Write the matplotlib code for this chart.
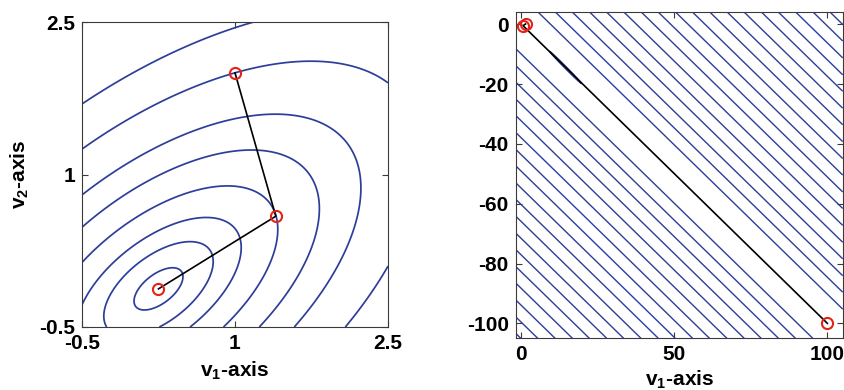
import numpy as np
import matplotlib
matplotlib.use("Agg")
import matplotlib.pyplot as plt

plt.rcParams['font.family'] = ['Liberation Sans', 'DejaVu Sans']
plt.rcParams['mathtext.fontset'] = 'custom'
plt.rcParams['mathtext.rm'] = 'Liberation Sans:bold'
plt.rcParams['mathtext.bf'] = 'Liberation Sans:bold'
plt.rcParams['axes.unicode_minus'] = False

# ---------------- data: left panel (well conditioned quadratic) ----------------
A_left = [[3.0, -2.0], [-2.0, 4.0]]
b_left = [1.0, -1.0]
levels_left = [-0.13, 0.1, 0.47, 1.18, 2.3, 3.75, 6.5, 10.0]
path_left_v1 = [1.0, 1.40, 0.25]
path_left_v2 = [2.0, 0.59, -0.125]
ticks_left = [-0.5, 1, 2.5]
ticklabels_left = ['-0.5', '1', '2.5']

# ---------------- data: right panel (ill conditioned problem) ----------------
center_right = [100.0, -100.0]          # minimiser
valley_dir = [1.0, -1.0]                # flat (valley) direction
levels_right = [6.9, 10.9, 14.8, 18.8, 22.7, 26.7, 30.7, 34.6, 38.6, 42.5,
                46.5, 50.5, 54.4, 58.4, 62.3, 66.3, 70.3, 74.2, 78.2, 82.1]
# thin closed contour lying along the path near its upper-left end
lens_center = [14.6, -14.4]
lens_dir = [1.0, -1.04]
lens_half_axes = [7.5, 0.32]
path_right_v1 = [1.6, 0.8, 100.0]
path_right_v2 = [0.1, -0.5, -100.0]
xticks_right = [0, 50, 100]
yticks_right = [0, -20, -40, -60, -80, -100]

BLUE = '#2c3e9a'
RED = '#e2231a'
SPINE = '#3a3a3a'
FS = 15

fig = plt.figure(figsize=(8.45, 3.90), dpi=100)


def quad(A, b, X, Y):
    return 0.5 * (A[0][0] * X * X + 2 * A[0][1] * X * Y + A[1][1] * Y * Y) - (b[0] * X + b[1] * Y)


def rotated(X, Y, c, d):
    d = np.asarray(d, float) / np.hypot(*d)
    DX, DY = X - c[0], Y - c[1]
    T = DX * d[0] + DY * d[1]
    S = -DX * d[1] + DY * d[0]
    return T, S


def style(ax):
    for s in ax.spines.values():
        s.set_color(SPINE)
        s.set_linewidth(0.8)
    ax.tick_params(direction='in', length=4, width=0.8, color=SPINE, top=True, right=True,
                   labelsize=FS, pad=5)
    for lab in ax.get_xticklabels() + ax.get_yticklabels():
        lab.set_fontweight('bold')


# left
ax1 = fig.add_axes([82 / 845, 1 - 327 / 390, 306 / 845, 305 / 390])
xs = np.linspace(-0.5, 2.5, 600)
ys = np.linspace(-0.5, 2.5, 600)
X, Y = np.meshgrid(xs, ys)
Z = quad(A_left, b_left, X, Y)
ax1.contour(X, Y, Z, levels=levels_left, colors=BLUE, linewidths=1.25, linestyles='solid')
ax1.plot(path_left_v1, path_left_v2, color='black', lw=1.2)
ax1.plot(path_left_v1, path_left_v2, 'o', mfc='none', mec=RED, mew=1.5, ms=8)
ax1.set_xlim(-0.5, 2.5)
ax1.set_ylim(-0.5, 2.5)
ax1.set_xticks(ticks_left)
ax1.set_xticklabels(ticklabels_left)
ax1.set_yticks(ticks_left)
ax1.set_yticklabels(ticklabels_left)
ax1.set_xlabel(r'v$_\mathbf{1}$-axis', fontsize=FS, fontweight='bold', labelpad=5)
ax1.set_ylabel(r'v$_\mathbf{2}$-axis', fontsize=FS, fontweight='bold', labelpad=6)
style(ax1)

# right
ax2 = fig.add_axes([515.7 / 845, 1 - 338.3 / 390, 327 / 845, 326.6 / 390])
xs = np.linspace(-1.6, 105, 1600)
ys = np.linspace(-105, 4.2, 1600)
X, Y = np.meshgrid(xs, ys)
T, S = rotated(X, Y, center_right, valley_dir)
ax2.contour(X, Y, np.abs(S), levels=levels_right, colors=BLUE, linewidths=1.0,
            linestyles='solid')
Tl, Sl = rotated(X, Y, lens_center, lens_dir)
L = np.sqrt((Tl / lens_half_axes[0]) ** 2 + (Sl / lens_half_axes[1]) ** 2)
ax2.contour(X, Y, L, levels=[1.0], colors=BLUE, linewidths=0.9, linestyles='solid')
ax2.plot(path_right_v1, path_right_v2, color='black', lw=1.2)
ax2.plot(path_right_v1, path_right_v2, 'o', mfc='none', mec=RED, mew=1.5, ms=8)
ax2.set_xlim(-1.6, 105)
ax2.set_ylim(-105, 4.2)
ax2.set_xticks(xticks_right)
ax2.set_yticks(yticks_right)
ax2.set_xlabel(r'v$_\mathbf{1}$-axis', fontsize=FS, fontweight='bold', labelpad=3)
style(ax2)

fig.savefig('out.png', dpi=100)
